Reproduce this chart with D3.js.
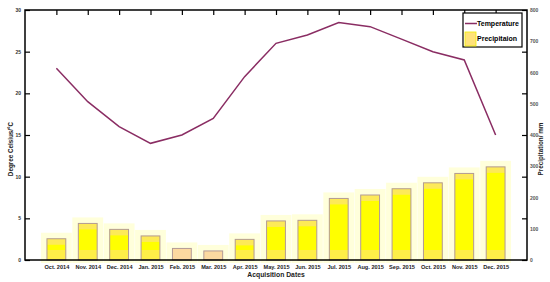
<!DOCTYPE html>
<html>
<head>
<meta charset="utf-8">
<script src="https://cdn.jsdelivr.net/npm/d3@7"></script>
<style>
  body { margin: 0; background: #fff; }
  svg { display: block; font-family: "Liberation Sans", Arial, sans-serif; font-weight: bold; }
</style>
</head>
<body>
<div id="vis"></div>
<script>
// chart values
const MONTHS = ["Oct. 2014", "Nov. 2014", "Dec. 2014", "Jan. 2015", "Feb. 2015", "Mar. 2015",
                "Apr. 2015", "May. 2015", "Jun. 2015", "Jul. 2015", "Aug. 2015", "Sep. 2015",
                "Oct. 2015", "Nov. 2015", "Dec. 2015"];
const TEMPERATURE = [23, 19, 16, 14, 15, 17, 22, 26, 27, 28.5, 28, 26.5, 25, 24, 15];
const PRECIPITATION = [68, 117, 98, 77, 37, 29, 66, 125, 127, 197, 208, 228, 247, 277, 298];
const TEMP_TICKS = [0, 5, 10, 15, 20, 25, 30];
const PREC_TICKS = [0, 100, 200, 300, 400, 500, 600, 700, 800];

const WIDTH = 550, HEIGHT = 282;
const MARGINS = {left: 25, right: 23, top: 10, bottom: 22};
const X0 = MARGINS.left, X1 = WIDTH - MARGINS.right;
const Y0 = MARGINS.top, Y1 = HEIGHT - MARGINS.bottom;

const svg = d3.select("#vis").append("svg")
              .attr("width", WIDTH)
              .attr("height", HEIGHT);

// x positions: month index 1..15 on a 0..16 scale
const X_SCALE = d3.scaleLinear().domain([0, 16]).range([X0, X1]);
const Y_LEFT = d3.scaleLinear().domain([0, 30]).range([Y1, Y0]);
const Y_RIGHT = d3.scaleLinear().domain([0, 800]).range([Y1, Y0]);

const step = X_SCALE(1) - X_SCALE(0);
const barW = step * 0.6;

// soft halo behind bars
svg.selectAll(".halo")
   .data(PRECIPITATION)
   .enter().append("rect")
   .attr("x", (d, i) => X_SCALE(i + 1) - barW / 2 - 6)
   .attr("y", d => Y_RIGHT(d) - 6)
   .attr("width", barW + 12)
   .attr("height", d => Y1 - Y_RIGHT(d) + 9)
   .attr("fill", "#ffffcc")
   .attr("opacity", 0.7);

// bars
svg.selectAll(".bar")
   .data(PRECIPITATION)
   .enter().append("rect")
   .attr("x", (d, i) => X_SCALE(i + 1) - barW / 2)
   .attr("y", d => Y_RIGHT(d))
   .attr("width", barW)
   .attr("height", d => Y1 - Y_RIGHT(d))
   .attr("fill", d => d < 50 ? "#fcd9a0" : "#ffff00");

// faint peach bands at top and bottom of the taller bars
svg.selectAll(".bandTop")
   .data(PRECIPITATION)
   .enter().append("rect")
   .attr("x", (d, i) => X_SCALE(i + 1) - barW / 2)
   .attr("y", d => Y_RIGHT(d))
   .attr("width", barW)
   .attr("height", d => d < 50 ? 0 : 6)
   .attr("fill", "#fcd9a0")
   .attr("opacity", 0.55);

svg.selectAll(".bandBot")
   .data(PRECIPITATION)
   .enter().append("rect")
   .attr("x", (d, i) => X_SCALE(i + 1) - barW / 2)
   .attr("y", Y1 - 10)
   .attr("width", barW)
   .attr("height", d => d < 50 ? 0 : 10)
   .attr("fill", "#fcd9a0")
   .attr("opacity", 0.45);

svg.selectAll(".barEdge")
   .data(PRECIPITATION)
   .enter().append("rect")
   .attr("x", (d, i) => X_SCALE(i + 1) - barW / 2)
   .attr("y", d => Y_RIGHT(d))
   .attr("width", barW)
   .attr("height", d => Y1 - Y_RIGHT(d))
   .attr("fill", "none")
   .attr("stroke", "#b39a96")
   .attr("stroke-width", 1);

// temperature line
const line = d3.line()
               .x((d, i) => X_SCALE(i + 1))
               .y(d => Y_LEFT(d));

svg.append("path")
   .datum(TEMPERATURE)
   .attr("d", line)
   .attr("fill", "none")
   .attr("stroke", "#8a2d63")
   .attr("stroke-width", 1.5);

// axes
const xBottom = svg.append("g")
   .attr("transform", "translate(0," + Y1 + ")")
   .call(d3.axisBottom(X_SCALE).tickValues(d3.range(1, 16)).tickSize(0).tickPadding(5)
           .tickFormat(d => MONTHS[d - 1]));
const xTop = svg.append("g")
   .attr("transform", "translate(0," + Y0 + ")")
   .call(d3.axisBottom(X_SCALE).tickValues(d3.range(1, 16)).tickSize(5).tickFormat(""));
const yLeft = svg.append("g")
   .attr("transform", "translate(" + X0 + ",0)")
   .call(d3.axisRight(Y_LEFT).tickValues(TEMP_TICKS).tickSize(5).tickFormat(""));
const yLeftLabels = svg.append("g")
   .attr("transform", "translate(" + X0 + ",0)")
   .call(d3.axisLeft(Y_LEFT).tickValues(TEMP_TICKS).tickSize(0).tickPadding(4));
const yRightTicks = svg.append("g")
   .attr("transform", "translate(" + X1 + ",0)")
   .call(d3.axisLeft(Y_LEFT).tickValues(TEMP_TICKS).tickSize(5).tickFormat(""));
const yRight = svg.append("g")
   .attr("transform", "translate(" + X1 + ",0)")
   .call(d3.axisRight(Y_RIGHT).tickValues(PREC_TICKS).tickSize(0).tickPadding(3));

[xBottom, xTop, yLeft, yLeftLabels, yRightTicks, yRight].forEach(g => {
  g.select(".domain").remove();
  g.selectAll("line").attr("stroke", "#000").attr("stroke-width", 1.2);
  g.selectAll("text").attr("font-family", "Liberation Sans, Arial, sans-serif")
                     .attr("font-weight", "bold");
});
xBottom.selectAll("text").attr("font-size", 5.6).attr("fill", "#222");
yLeftLabels.selectAll("text").attr("font-size", 5).attr("fill", "#333");
yRight.selectAll("text").attr("font-size", 5).attr("fill", "#555");

// frame
svg.append("rect")
   .attr("x", X0).attr("y", Y0)
   .attr("width", X1 - X0).attr("height", Y1 - Y0)
   .attr("fill", "none")
   .attr("stroke", "#000")
   .attr("stroke-width", 1.5);

// axis titles
svg.append("text")
   .attr("x", (X0 + X1) / 2).attr("y", 277)
   .attr("text-anchor", "middle")
   .attr("font-size", 6.8)
   .attr("fill", "#222")
   .text("Acquisition Dates");

svg.append("text")
   .attr("transform", "translate(13,149) rotate(-90)")
   .attr("text-anchor", "middle")
   .attr("font-size", 6.3)
   .attr("fill", "#222")
   .text("Degree Celsius/°C");

svg.append("text")
   .attr("transform", "translate(543,149) rotate(-90)")
   .attr("text-anchor", "middle")
   .attr("font-size", 6.3)
   .attr("fill", "#222")
   .text("Precipitation/ mm");

// legend
const LEG = svg.append("g");
LEG.append("rect")
   .attr("x", 463).attr("y", 13)
   .attr("width", 59).attr("height", 34)
   .attr("fill", "#fff")
   .attr("stroke", "#000")
   .attr("stroke-width", 1.2);
LEG.append("line")
   .attr("x1", 465).attr("x2", 477)
   .attr("y1", 23.5).attr("y2", 23.5)
   .attr("stroke", "#8a2d63")
   .attr("stroke-width", 1.5);
LEG.append("text")
   .attr("x", 477).attr("y", 26)
   .attr("font-size", 7)
   .attr("fill", "#000")
   .text("Temperature");
LEG.append("rect")
   .attr("x", 465).attr("y", 32)
   .attr("width", 11).attr("height", 14)
   .attr("fill", "#ffe27a")
   .attr("stroke", "#f0f000")
   .attr("stroke-width", 0.8);
LEG.append("text")
   .attr("x", 477).attr("y", 41)
   .attr("font-size", 7)
   .attr("fill", "#000")
   .text("Precipitaion");
</script>
</body>
</html>
